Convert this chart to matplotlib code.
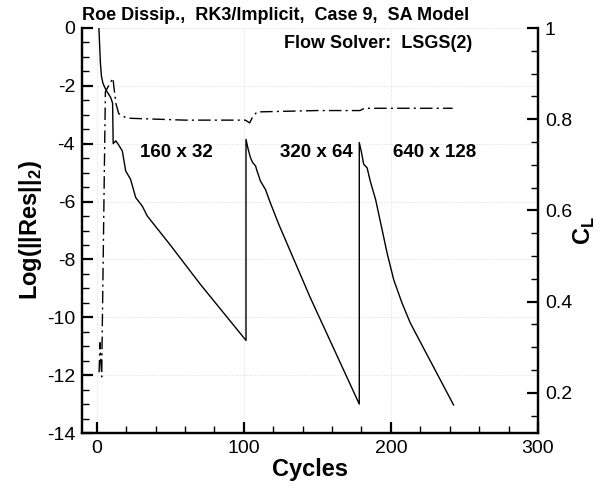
import matplotlib
matplotlib.use("Agg")
import matplotlib.pyplot as plt
from matplotlib.ticker import MultipleLocator, FuncFormatter

plt.rcParams["font.family"] = ["Liberation Sans", "DejaVu Sans"]
plt.rcParams["axes.unicode_minus"] = False
plt.rcParams["mathtext.fontset"] = "custom"
plt.rcParams["mathtext.rm"] = "Liberation Sans"
plt.rcParams["mathtext.bf"] = "Liberation Sans:bold"

# residual history (left axis)
res_cycles = [1.5, 2.5, 3.2, 4.2, 5.4, 7.0, 9.5, 10.8, 11.2, 13.0, 15.0, 17.4, 19.7,
              23.0, 26.5, 31.0, 34.4, 50.0, 70.6, 101.5,
              101.5, 103.0, 104.5, 106.0, 108.0, 109.0, 111.3, 114.7, 118.0, 123.8,
              145.0, 178.5,
              178.5, 180.0, 181.5, 183.8, 186.0, 189.6, 194.0, 197.5, 201.9, 207.5,
              213.2, 242.6]
res_log = [0.0, -1.2, -1.66, -1.9, -2.05, -2.2, -2.4, -2.6, -4.0, -3.9, -4.05, -4.25, -4.94,
           -5.23, -5.86, -6.16, -6.5, -7.5, -8.87, -10.8,
           -3.85, -4.2, -4.48, -4.65, -4.77, -4.94, -5.29, -5.58, -6.04, -6.79,
           -9.3, -13.0,
           -3.96, -4.3, -4.71, -4.83, -5.3, -5.93, -6.97, -7.8, -8.7, -9.5,
           -10.2, -13.03]

# lift coefficient history (right axis)
cl_cycles = [1.6, 2.3, 2.8, 3.4, 3.7, 5.9, 7.5, 11.0, 13.0, 15.0, 20.0, 23.0, 60.0,
             101.0, 104.0, 106.0, 109.0, 150.0, 179.0, 182.0, 242.0]
cl_vals = [0.245, 0.31, 0.27, 0.235, 0.32, 0.86, 0.87, 0.89, 0.835, 0.812, 0.803, 0.802,
           0.798, 0.798, 0.792, 0.805, 0.816, 0.819, 0.819, 0.824, 0.824]

grid_labels = ["160 x 32", "320 x 64", "640 x 128"]
grid_label_x = [54, 149, 230]

fig = plt.figure(figsize=(6.1, 4.91), dpi=100)
ax = fig.add_axes([82 / 610, 58 / 491, 456 / 610, 405 / 491])
ax2 = ax.twinx()

ax.plot(res_cycles, res_log, color="black", lw=1.0)
ax2.plot(cl_cycles, cl_vals, color="black", lw=1.0, dashes=(9, 3, 1.5, 3))

ax.set_xlim(-10, 300)
ax.set_ylim(-14, 0)
ax2.set_ylim(0.112, 1.0)

ax.xaxis.set_major_locator(MultipleLocator(100))
ax.xaxis.set_minor_locator(MultipleLocator(20))
ax.yaxis.set_major_locator(MultipleLocator(2))
ax.yaxis.set_minor_locator(MultipleLocator(0.5))
ax2.yaxis.set_major_locator(MultipleLocator(0.2))
ax2.yaxis.set_minor_locator(MultipleLocator(0.05))
ax2.yaxis.set_major_formatter(FuncFormatter(lambda v, p: "%g" % round(v, 3)))

for a in (ax, ax2):
    a.spines["top"].set_visible(False)
    for s in a.spines.values():
        s.set_linewidth(1.6)
    a.tick_params(which="major", direction="in", length=8, width=1.6, labelsize=14, pad=5)
    a.tick_params(which="minor", direction="in", length=5, width=1.0)

ax.tick_params(axis="y", right=False)
ax.tick_params(axis="x", top=False)
ax.grid(True, which="major", color="#dddddd", ls=":", lw=0.7)

ax.set_xlabel("Cycles", fontsize=17, fontweight="bold", labelpad=1)
ax.set_ylabel("Log(||Res||$_{\\mathbf{2}}$)", fontsize=17, fontweight="bold", labelpad=2)
ax2.set_ylabel("C$_{\\mathbf{L}}$", fontsize=17, fontweight="bold", labelpad=0)

fig.text(82 / 610, 1 - 15 / 491, "Roe Dissip.,  RK3/Implicit,  Case 9,  SA Model",
         fontsize=13, fontweight="bold", va="center", ha="left")
fig.text(472 / 610, 1 - 43 / 491, "Flow Solver:  LSGS(2)",
         fontsize=13, fontweight="bold", ha="right", va="center")
for lbl, x in zip(grid_labels, grid_label_x):
    ax.text(x, -4.3, lbl, fontsize=13.5, fontweight="bold", ha="center", va="center")

fig.savefig("out.png", dpi=100)
